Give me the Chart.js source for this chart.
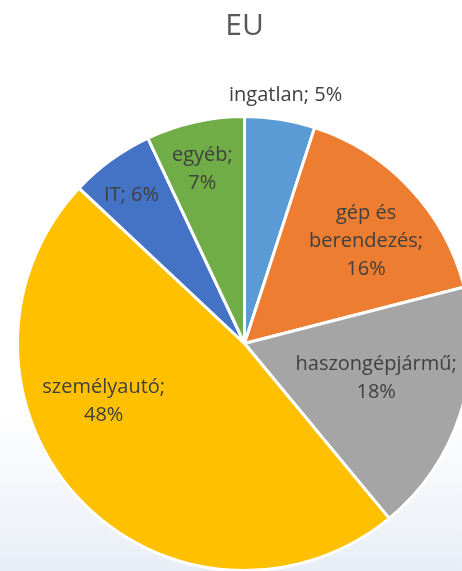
<!DOCTYPE html>
<html>
<head>
<meta charset="utf-8">
<script src="https://cdn.jsdelivr.net/npm/chart.js@4/dist/chart.umd.min.js"></script>
<style>
  html, body { margin: 0; padding: 0; }
  body {
    width: 462px; height: 571px; overflow: hidden;
    background: linear-gradient(to bottom, #ffffff 0%, #ffffff 72%, #e9edf6 100%);
  }
  #wrap { position: relative; width: 462px; height: 571px; overflow: hidden; }
  #euChart { position: absolute; left: -3px; top: 0; }
</style>
</head>
<body>
<div id="wrap"><canvas id="euChart" width="495" height="572"></canvas></div>
<script>
// kategóriák (a "\n" jelöli a sortörést a feliratban)
const categories = ['ingatlan', 'gép és\nberendezés', 'haszongépjármű', 'személyautó', 'IT', 'egyéb'];
const shares = [5, 16, 18, 48, 6, 7];
const colors = ['#5b9bd5', '#ed7d31', '#a5a5a5', '#ffc000', '#4472c4', '#70ad47'];
// érték új sorba kerül-e
const valueOnNewLine = [false, true, true, true, false, true];

// felirat elhelyezés: szögeltolás (fok) a szelet közepéhez képest, sugár arány
const labelPlace = [
    { a: 0.4, r: 1.11 },
    { a: 3.1, r: 0.70 },
    { a: -3.2, r: 0.60 },
    { a: 21, r: 0.67 },
    { a: -1.4, r: 0.82 },
    { a: -1.0, r: 0.79 }
];

const sliceLabels = {
    id: 'sliceLabels',
    afterDatasetsDraw(chart, args, opts) {
        const ctx = chart.ctx;
        const meta = chart.getDatasetMeta(0);
        ctx.save();
        ctx.font = opts.font;
        ctx.fillStyle = opts.color;
        ctx.textAlign = 'center';
        ctx.textBaseline = 'middle';
        meta.data.forEach(function (arc, i) {
            const p = arc.getProps(['x', 'y', 'startAngle', 'endAngle', 'outerRadius'], true);
            const place = labelPlace[i];
            const mid = (p.startAngle + p.endAngle) / 2 + place.a * Math.PI / 180;
            const cx = p.x + Math.cos(mid) * p.outerRadius * place.r;
            const cy = p.y + Math.sin(mid) * p.outerRadius * place.r;
            let lines = (categories[i] + ';').split('\n');
            const val = shares[i] + '%';
            if (valueOnNewLine[i]) lines.push(val);
            else lines[lines.length - 1] += ' ' + val;
            const lh = opts.lineHeight;
            const top = cy - (lines.length - 1) * lh / 2;
            lines.forEach(function (t, k) { ctx.fillText(t, cx, top + k * lh); });
        });
        ctx.restore();
    }
};

new Chart(document.getElementById('euChart'), {
    type: 'pie',
    data: {
        labels: categories.map(c => c.replace('\n', ' ')),
        datasets: [{
            data: shares,
            backgroundColor: colors,
            borderColor: '#ffffff',
            borderWidth: 3
        }]
    },
    options: {
        responsive: false,
        animation: false,
        layout: { padding: { top: 0, bottom: 0 } },
        plugins: {
            legend: { display: false },
            tooltip: { enabled: false },
            title: {
                display: true,
                text: 'EU',
                color: '#595959',
                font: { family: 'Open Sans', size: 30, weight: 'normal' },
                padding: { top: 8, bottom: 71 }
            },
            sliceLabels: {
                font: '20px "Open Sans"',
                color: '#404040',
                lineHeight: 28
            }
        }
    },
    plugins: [sliceLabels]
});
</script>
</body>
</html>
